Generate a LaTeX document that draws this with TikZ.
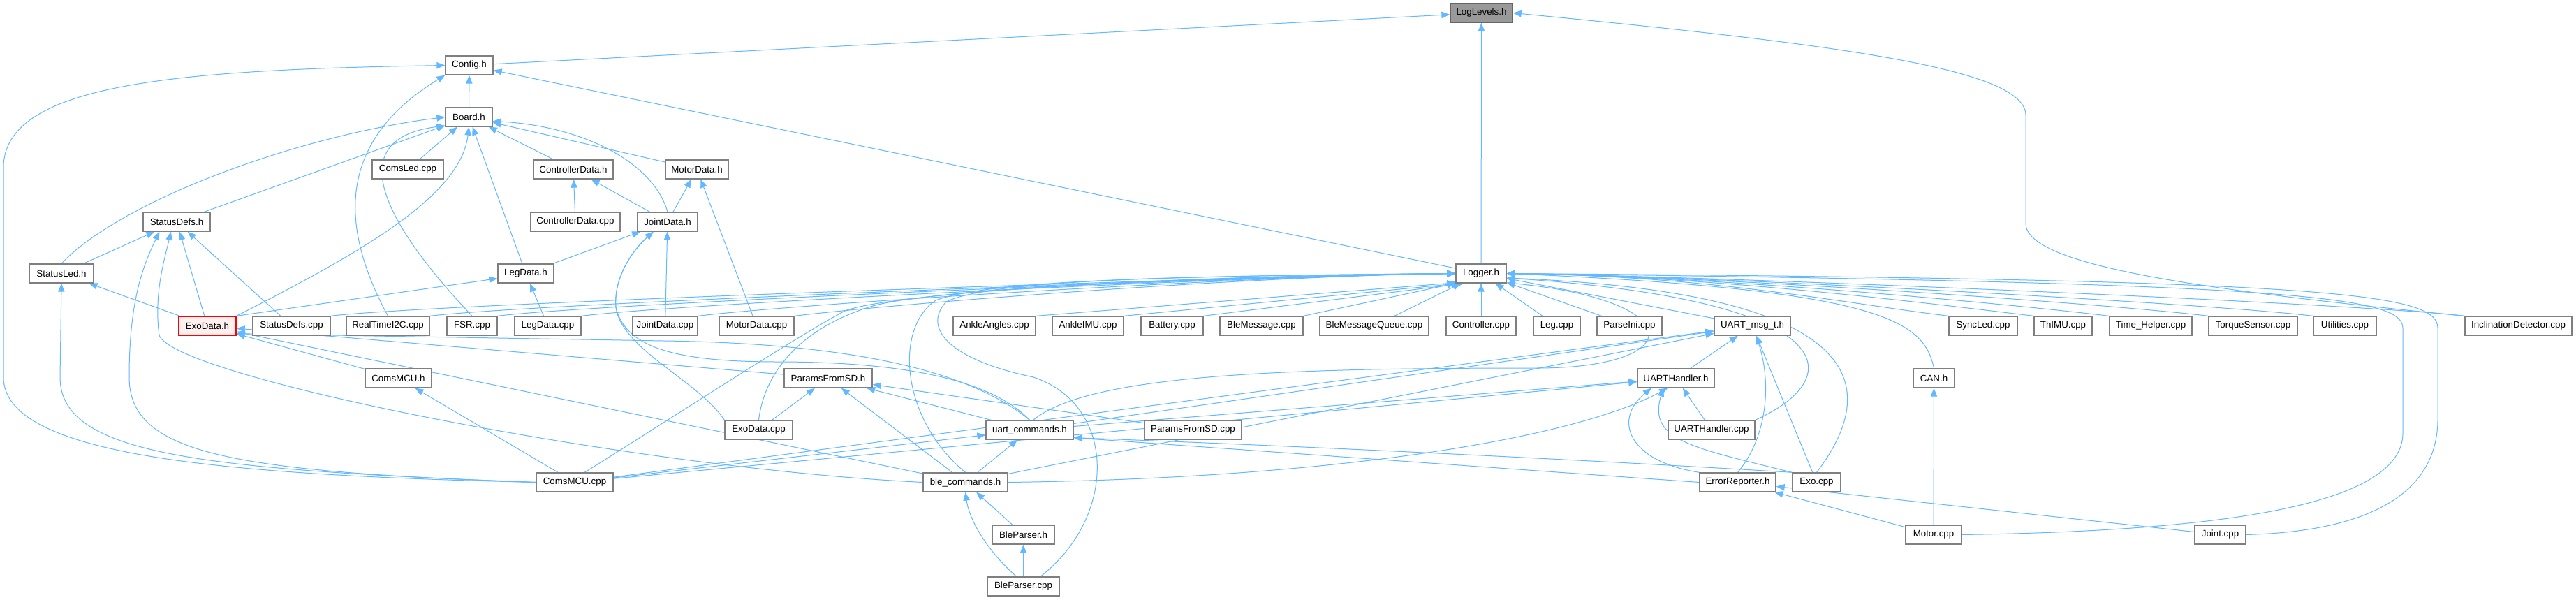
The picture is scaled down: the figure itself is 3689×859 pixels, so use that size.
\documentclass[tikz,border=0pt]{standalone}
\usepackage{fontspec}
\setmainfont{Liberation Sans}
\usetikzlibrary{arrows.meta}
\definecolor{edgeblue}{HTML}{63B8FF}
\definecolor{ndborder}{HTML}{7F7F7F}
\definecolor{llfill}{HTML}{999999}
\definecolor{llborder}{HTML}{666666}
\definecolor{exofill}{HTML}{FFF0F0}
\pgfdeclarelayer{bg}
\pgfsetlayers{bg,main}
\begin{document}
\begin{tikzpicture}[x=0.75pt,y=-0.75pt,
  nd/.style={draw=ndborder, line width=1pt, fill=white, minimum height=20.25pt, inner sep=0pt, font=\fontsize{10}{12}\selectfont},
  bw/.style={minimum width=#1*0.75pt},
  edge/.style={draw=edgeblue, line width=0.75pt, -{Triangle[length=9pt,width=7pt]}}]
\useasboundingbox (0,0) rectangle (3689,859);
% nodes
\node[nd,bw=89,fill=llfill,draw=llborder] (loglevels) at (2121.5,18.5) {LogLevels.h};
\node[nd,bw=68] (config) at (672,93.5) {Config.h};
\node[nd,bw=67] (board) at (671.5,167.5) {Board.h};
\node[nd,bw=102] (comsled) at (584,242.5) {ComsLed.cpp};
\node[nd,bw=114] (ctrldatah) at (821,242.5) {ControllerData.h};
\node[nd,bw=90] (motordatah) at (998,242.5) {MotorData.h};
\node[nd,bw=96] (statusdefsh) at (253,317.5) {StatusDefs.h};
\node[nd,bw=128] (ctrldatacpp) at (824,317.5) {ControllerData.cpp};
\node[nd,bw=86] (jointdatah) at (956,317.5) {JointData.h};
\node[nd,bw=92] (statusledh) at (88,391.5) {StatusLed.h};
\node[nd,bw=80] (legdatah) at (753,391.5) {LegData.h};
\node[nd,bw=72] (logger) at (2121,391.5) {Logger.h};
\node[nd,bw=82,draw=red,fill=exofill] (exodatah) at (297,466.5) {ExoData.h};
\node[nd,bw=111] (statusdefscpp) at (417.5,466.5) {StatusDefs.cpp};
\node[nd,bw=119] (realtime) at (555.5,466.5) {RealTimeI2C.cpp};
\node[nd,bw=72] (fsr) at (676,466.5) {FSR.cpp};
\node[nd,bw=95] (legdatacpp) at (784.5,466.5) {LegData.cpp};
\node[nd,bw=93] (jointdatacpp) at (952.5,466.5) {JointData.cpp};
\node[nd,bw=107] (motordatacpp) at (1083.5,466.5) {MotorData.cpp};
\node[nd,bw=118] (ankleangles) at (1424,466.5) {AnkleAngles.cpp};
\node[nd,bw=102] (ankleimu) at (1558,466.5) {AnkleIMU.cpp};
\node[nd,bw=89] (battery) at (1678.5,466.5) {Battery.cpp};
\node[nd,bw=119] (blemsg) at (1806.5,466.5) {BleMessage.cpp};
\node[nd,bw=156] (blemsgq) at (1968,466.5) {BleMessageQueue.cpp};
\node[nd,bw=100] (controller) at (2121,466.5) {Controller.cpp};
\node[nd,bw=67] (leg) at (2229.5,466.5) {Leg.cpp};
\node[nd,bw=93] (parseini) at (2333.5,466.5) {ParseIni.cpp};
\node[nd,bw=109] (uartmsg) at (2509.5,466.5) {UART\_msg\_t.h};
\node[nd,bw=98] (syncled) at (2840,466.5) {SyncLed.cpp};
\node[nd,bw=83] (thimu) at (2954.5,466.5) {ThIMU.cpp};
\node[nd,bw=118] (timehelper) at (3080,466.5) {Time\_Helper.cpp};
\node[nd,bw=127] (torque) at (3226.5,466.5) {TorqueSensor.cpp};
\node[nd,bw=90] (utilities) at (3358,466.5) {Utilities.cpp};
\node[nd,bw=153] (incl) at (3606.5,466.5) {InclinationDetector.cpp};
\node[nd,bw=95] (comsmcuh) at (570.5,541.5) {ComsMCU.h};
\node[nd,bw=126] (paramsh) at (1186,541.5) {ParamsFromSD.h};
\node[nd,bw=110] (uarth) at (2400,541.5) {UARTHandler.h};
\node[nd,bw=59] (can) at (2769.5,541.5) {CAN.h};
\node[nd,bw=97] (exodatacpp) at (1086.5,615.5) {ExoData.cpp};
\node[nd,bw=125] (uartcmd) at (1474.5,615.5) {uart\_commands.h};
\node[nd,bw=139] (paramscpp) at (1708.5,615.5) {ParamsFromSD.cpp};
\node[nd,bw=124] (uarthcpp) at (2451,615.5) {UARTHandler.cpp};
\node[nd,bw=110] (comsmcucpp) at (823,690.5) {ComsMCU.cpp};
\node[nd,bw=121] (blecmd) at (1382.5,690.5) {ble\_commands.h};
\node[nd,bw=109] (errrep) at (2488.5,690.5) {ErrorReporter.h};
\node[nd,bw=69] (exocpp) at (2601.5,690.5) {Exo.cpp};
\node[nd,bw=89] (bleparserh) at (1465.5,765.5) {BleParser.h};
\node[nd,bw=80] (motorcpp) at (2769,765.5) {Motor.cpp};
\node[nd,bw=73] (jointcpp) at (3179.5,765.5) {Joint.cpp};
\node[nd,bw=103] (bleparsercpp) at (1465.5,839.5) {BleParser.cpp};
% edges
\begin{pgfonlayer}{bg}
\fill[white] (0,0) rectangle (3689,859);
% LogLevels.h
\draw[edge] (config) -- (loglevels);
\draw[edge] (logger) -- (loglevels);
\draw[edge] (incl.north west) .. controls (3150,415) and (2901,380) .. (2901,320) -- (2901,165) .. controls (2901,100) and (2650,65) .. (loglevels.east);
% Config.h
\draw[edge] (board) -- (config);
\draw[edge] (comsmcucpp.west) .. controls (300,680) and (5,650) .. (5,540) -- (5,240) .. controls (5,120) and (250,100) .. (config.west);
\draw[edge] (realtime.north) .. controls (495,340) and (470,210) .. (config.south west);
\draw[edge] (logger) -- (config);
% Board.h
\draw[edge] (statusledh.north) .. controls (170,290) and (420,195) .. (board.west);
\draw[edge] (statusdefsh) -- (board);
\draw[edge] (comsled) -- (board);
\draw[edge] (exodatah.north east) .. controls (520,360) and (660,280) .. (board.south);
\draw[edge] (legdatah) -- (board);
\draw[edge] (ctrldatah) -- (board);
\draw[edge] (motordatah) -- (board);
\draw[edge] (jointdatah.north) .. controls (935,230) and (830,180) .. (board.-10);
\draw[edge] (fsr.north) .. controls (560,330) and (480,200) .. (board.200);
% ControllerData.h, MotorData.h, JointData.h
\draw[edge] (ctrldatacpp) -- (ctrldatah);
\draw[edge] (jointdatah) -- (ctrldatah);
\draw[edge] (jointdatah) -- (motordatah);
\draw[edge] (motordatacpp) -- (motordatah);
\draw[edge] (legdatah) -- (jointdatah);
\draw[edge] (exodatacpp.north west) .. controls (1000,545) and (890,500) .. (882,440) .. controls (878,390) and (915,350) .. (jointdatah.215);
\draw[edge] (uartcmd.north) .. controls (1420,545) and (1300,518) .. (1112,518) .. controls (960,518) and (895,495) .. (882,440) .. controls (878,390) and (915,350) .. (jointdatah.215);
\draw[edge] (jointdatacpp) -- (jointdatah);
% StatusDefs.h
\draw[edge] (statusledh) -- (statusdefsh);
\draw[edge] (comsmcucpp.west) .. controls (330,675) and (185,650) .. (185,540) .. controls (185,430) and (205,380) .. (statusdefsh.210);
\draw[edge] (blecmd.west) .. controls (900,670) and (250,540) .. (228,480) .. controls (220,420) and (236,370) .. (statusdefsh.240);
\draw[edge] (exodatah) -- (statusdefsh);
\draw[edge] (statusdefscpp) -- (statusdefsh);
% StatusLed.h
\draw[edge] (comsmcucpp.west) .. controls (280,672) and (86,650) .. (86,540) -- (statusledh.south);
\draw[edge] (exodatah) -- (statusledh);
% LegData.h
\draw[edge] (exodatah.north east) -- (legdatah.190);
\draw[edge] (legdatacpp) -- (legdatah);
% ExoData.h
\draw[edge] (comsmcuh) -- (exodatah);
\draw[edge] (blecmd) -- (exodatah);
\draw[edge] (paramsh) -- (exodatah);
\draw[edge] (uartcmd.north) .. controls (1400,540) and (1250,492) .. (950,488) -- (exodatah.-15);
% ParamsFromSD.h
\draw[edge] (exodatacpp) -- (paramsh);
\draw[edge] (blecmd) -- (paramsh);
\draw[edge] (uartcmd) -- (paramsh);
\draw[edge] (paramscpp) -- (paramsh);
% uart_commands.h
\draw[edge] (comsmcucpp) -- (uartcmd);
\draw[edge] (blecmd) -- (uartcmd);
\draw[edge] (errrep.west) -- (uartcmd.-10);
\draw[edge] (exocpp.north west) .. controls (2300,660) and (1900,640) .. (uartcmd.-10);
% ComsMCU.h, ble_commands.h, BleParser.h
\draw[edge] (comsmcucpp) -- (comsmcuh);
\draw[edge] (bleparserh) -- (blecmd);
\draw[edge] (bleparsercpp.125) .. controls (1415,790) and (1388,745) .. (blecmd.south);
\draw[edge] (bleparsercpp) -- (bleparserh);
% UART_msg_t.h, UARTHandler.h
\draw[edge] (comsmcucpp) -- (uartmsg);
\draw[edge] (comsmcucpp) -- (uarth);
\draw[edge] (uartcmd) -- (uartmsg);
\draw[edge] (uartcmd) -- (uarth);
\draw[edge] (blecmd) -- (uartmsg);
\draw[edge] (blecmd.east) .. controls (1900,685) and (2250,630) .. (uarth.230);
\draw[edge] (uarth) -- (uartmsg);
\draw[edge] (errrep.north) .. controls (2535,620) and (2535,540) .. (uartmsg.-70);
\draw[edge] (exocpp) -- (uartmsg);
\draw[edge] (errrep.north west) .. controls (2330,660) and (2310,600) .. (uarth.202);
\draw[edge] (exocpp.north west) .. controls (2420,640) and (2360,630) .. (uarth.218);
\draw[edge] (uarthcpp) -- (uarth);
% Motor.cpp, Joint.cpp
\draw[edge] (motorcpp) -- (can);
\draw[edge] (motorcpp) -- (errrep);
\draw[edge] (jointcpp) -- (errrep);
% Logger.h
\foreach \s in {statusdefscpp,realtime,fsr,legdatacpp,jointdatacpp,motordatacpp}
  \draw[edge] (\s.north east) .. controls +(150,-18) and +(-300,4) .. (logger.west);
\draw[edge] (ankleangles.north east) -- (logger.200);
\draw[edge] (ankleimu.north east) -- (logger.205);
\draw[edge] (battery.north east) -- (logger.210);
\draw[edge] (blemsg.north east) -- (logger.south west);
\draw[edge] (blemsgq) -- (logger);
\draw[edge] (controller) -- (logger);
\draw[edge] (leg) -- (logger);
\draw[edge] (parseini) -- (logger);
\draw[edge] (uartmsg) -- (logger);
\foreach \s in {syncled,thimu,timehelper,torque,utilities,incl}
  \draw[edge] (\s.north west) .. controls +(-150,-18) and +(300,4) .. (logger.east);
\draw[edge] (exodatacpp.north) .. controls (1095,530) and (1150,468) .. (1250,438) .. controls (1330,415) and (1700,395) .. (logger.west);
\draw[edge] (comsmcucpp.45) .. controls (960,600) and (1140,482) .. (1210,445) .. controls (1280,418) and (1700,395) .. (logger.west);
\draw[edge] (blecmd.north) .. controls (1290,600) and (1280,470) .. (1340,430) .. controls (1420,400) and (1700,395) .. (logger.west);
\draw[edge] (bleparsercpp.30) .. controls (1600,740) and (1600,580) .. (1480,540) .. controls (1360,515) and (1320,470) .. (1355,432) .. controls (1420,400) and (1700,395) .. (logger.west);
\draw[edge] (uartcmd.70) .. controls (1560,535) and (1850,527) .. (2200,527) .. controls (2420,527) and (2420,430) .. (logger.-20);
\draw[edge] (uarthcpp.north east) .. controls (2650,540) and (2640,430) .. (logger.-10);
\draw[edge] (exocpp.north) .. controls (2690,560) and (2690,420) .. (logger.-10);
\draw[edge] (can.north) .. controls (2755,460) and (2700,415) .. (logger.east);
\draw[edge] (motorcpp.east) .. controls (3200,760) and (3441,720) .. (3441,620) -- (3441,470) .. controls (3441,425) and (3300,405) .. (logger.east);
\draw[edge] (jointcpp.east) .. controls (3420,760) and (3491,690) .. (3491,600) -- (3491,470) .. controls (3491,420) and (3350,400) .. (logger.east);
\end{pgfonlayer}
\end{tikzpicture}
\end{document}
